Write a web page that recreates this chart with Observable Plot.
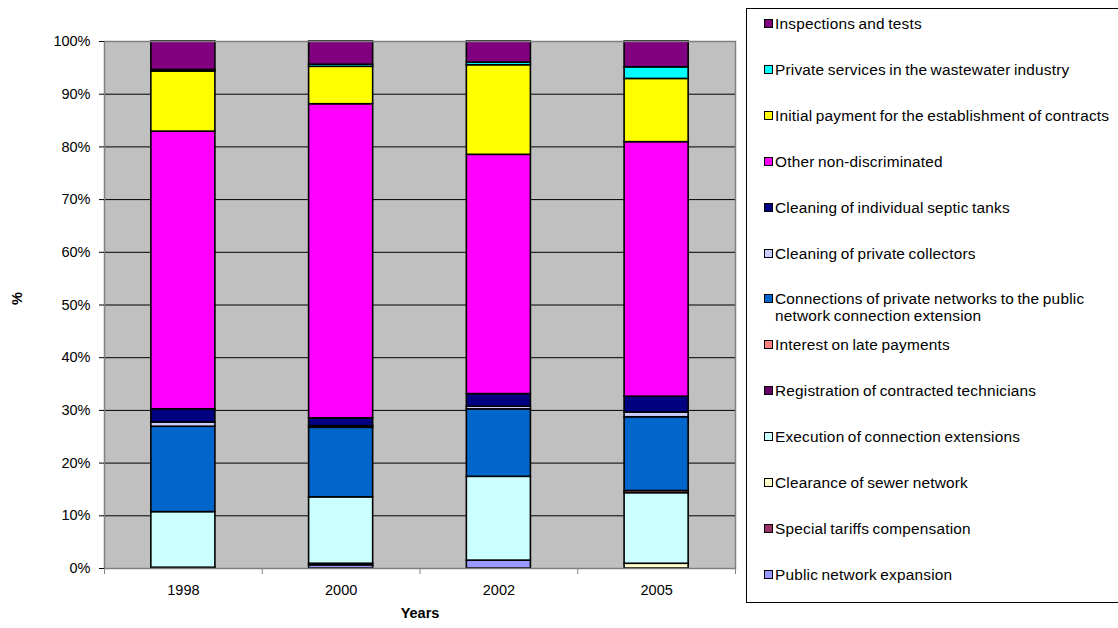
<!DOCTYPE html>
<html>
<head>
<meta charset="utf-8">
<script src="https://cdn.jsdelivr.net/npm/d3@7"></script>
<script src="https://cdn.jsdelivr.net/npm/@observablehq/plot@0.6"></script>
<style>
  html, body { margin: 0; padding: 0; background: #fff; }
  body { width: 1118px; height: 628px; position: relative; overflow: hidden; font-family: "Liberation Sans", Arial, sans-serif; }
  #chart { position: absolute; left: 0; top: 0; }
  #legend { position: absolute; left: 746px; top: 8px; width: 400px; height: 595px; border: 1px solid #000; box-sizing: border-box; background: #fff; }
  .item { position: absolute; left: 17px; font-size: 15.4px; line-height: 17px; color: #000; letter-spacing: 0.2px; word-spacing: -1px; }
  .sw { position: absolute; left: 0; top: 4px; width: 7px; height: 7px; border: 1px solid #000; }
  .lbl { margin-left: 11px; display: block; width: 342px; }
</style>
</head>
<body>
<div id="chart"></div>
<div id="legend"></div>
<script>
// Survey years on the x axis
const years = ["1998", "2000", "2002", "2005"];

// Revenue categories, listed from the bottom of each stack to the top
const categories = [
  "Public network expansion",
  "Special tariffs compensation",
  "Clearance of sewer network",
  "Execution of connection extensions",
  "Registration of contracted technicians",
  "Interest on late payments",
  "Connections of private networks to the public network connection extension",
  "Cleaning of private collectors",
  "Cleaning of individual septic tanks",
  "Other non-discriminated",
  "Initial payment for the establishment of contracts",
  "Private services in the wastewater industry",
  "Inspections and tests"
];

// Fill colour of each category (same order)
const colors = [
  "#9999ff", "#993366", "#ffffcc", "#ccffff", "#660066", "#ff8080",
  "#0066cc", "#ccccff", "#000080", "#ff00ff", "#ffff00", "#00ffff", "#800080"
];

// Share (%) of each category per year: 1998, 2000, 2002, 2005
const publicNetwork   = [0.15, 0.6, 1.5, 0];
const specialTariffs  = [0, 0.3, 0, 0];
const clearance       = [0, 0, 0, 0.9];
const execution       = [10.55, 12.6, 15.9, 13.4];
const registration    = [0, 0, 0, 0];
const interest        = [0, 0, 0, 0.4];
const connections     = [16.2, 13.2, 12.8, 14.0];
const privCollectors  = [0.8, 0.3, 0.5, 0.9];
const septicTanks     = [2.5, 1.5, 2.4, 3.0];
const otherNonDisc    = [52.7, 59.6, 45.4, 48.3];
const initialPayment  = [11.4, 7.1, 17.0, 12.0];
const privateServices = [0.3, 0.4, 0.5, 2.2];
const inspections     = [5.4, 4.4, 4.0, 4.9];

const seriesValues = [
  publicNetwork, specialTariffs, clearance, execution, registration, interest,
  connections, privCollectors, septicTanks, otherNonDisc, initialPayment,
  privateServices, inspections
];

// Y axis ticks (percent)
const yTicks = [0, 10, 20, 30, 40, 50, 60, 70, 80, 90, 100];

// Long-format table for the stacked bars
const rows = [];
categories.forEach((cat, ci) => {
  years.forEach((yr, yi) => {
    const v = seriesValues[ci][yi];
    if (v > 0) rows.push({year: yr, index: yi, category: cat, value: v});
  });
});

const barHalf = 0.203; // half bar width, in category units

const chart = Plot.plot({
  width: 1118,
  height: 628,
  marginLeft: 104,
  marginRight: 383,
  marginTop: 41,
  marginBottom: 60,
  style: {fontFamily: "'Liberation Sans', Arial, sans-serif", fontSize: "14px", background: "transparent"},
  x: {domain: [0, years.length], axis: null},
  y: {domain: [0, 100], axis: null},
  color: {domain: categories, range: colors},
  marks: [
    Plot.frame({fill: "#c0c0c0", stroke: null}),
    Plot.gridY(yTicks.slice(1, -1), {stroke: "#000", strokeOpacity: 1, strokeWidth: 1}),
    Plot.rectY(rows, {
      x1: d => d.index + 0.5 - barHalf,
      x2: d => d.index + 0.5 + barHalf,
      y: "value",
      z: "category",
      fill: "category",
      stroke: "#000",
      strokeWidth: 1.6,
      order: null
    }),
    Plot.frame({stroke: "#808080", strokeWidth: 1.5}),
    Plot.axisY(yTicks, {
      tickFormat: d => d + "%",
      tickSize: 5,
      tickPadding: 9,
      fontSize: 14.5,
      label: null
    }),
    Plot.axisX(d3.range(0, years.length + 1), {
      tickSize: 6,
      tickFormat: () => "",
      stroke: "#808080",
      label: null
    }),
    Plot.axisX(years.map((_, i) => i + 0.5), {
      tickSize: 0,
      tickPadding: 16,
      tickFormat: d => years[Math.floor(d)],
      fontSize: 14.5,
      label: null
    }),
    Plot.text(["Years"], {frameAnchor: "bottom", dy: 49, fontWeight: "bold", fontSize: 14.5}),
    Plot.text(["%"], {frameAnchor: "left", dx: -87, rotate: -90, fontWeight: "bold", fontSize: 14.5})
  ]
});
document.getElementById("chart").appendChild(chart);

// Legend, top entry = top of the stack
const legend = document.getElementById("legend");
const order = categories.map((c, i) => i).reverse();
order.forEach((ci, k) => {
  const item = document.createElement("div");
  item.className = "item";
  item.style.top = (6 + k * 45.9) + "px";
  const sw = document.createElement("span");
  sw.className = "sw";
  sw.style.background = colors[ci];
  const lbl = document.createElement("span");
  lbl.className = "lbl";
  lbl.textContent = categories[ci];
  item.appendChild(sw);
  item.appendChild(lbl);
  legend.appendChild(item);
});
</script>
</body>
</html>
